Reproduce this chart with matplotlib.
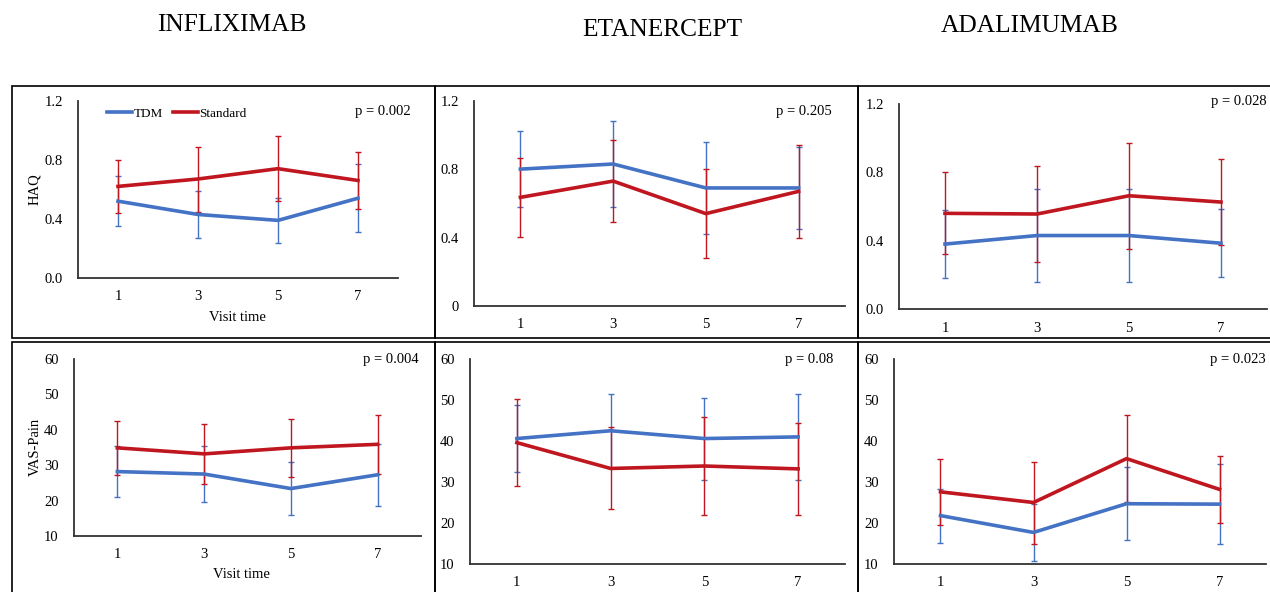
import matplotlib
matplotlib.use("Agg")
import matplotlib.pyplot as plt
from matplotlib.patches import Rectangle
from matplotlib.lines import Line2D

plt.rcParams['font.family'] = ['Liberation Serif', 'DejaVu Serif']

W, H = 1270, 592

# Data
visits = ['1', '3', '5', '7']
drugs = ['INFLIXIMAB', 'ETANERCEPT', 'ADALIMUMAB']

# HAQ row
haq_tdm = [[0.52, 0.43, 0.39, 0.54],
           [0.80, 0.83, 0.69, 0.69],
           [0.38, 0.43, 0.43, 0.385]]
haq_tdm_err = [[0.17, 0.16, 0.15, 0.23],
               [0.22, 0.25, 0.27, 0.24],
               [0.20, 0.27, 0.27, 0.20]]
haq_std = [[0.62, 0.67, 0.74, 0.66],
           [0.635, 0.73, 0.54, 0.67],
           [0.56, 0.556, 0.663, 0.626]]
haq_std_err = [[0.18, 0.22, 0.22, 0.19],
               [0.23, 0.24, 0.26, 0.27],
               [0.24, 0.28, 0.31, 0.25]]
haq_p = ['p = 0.002', 'p = 0.205', 'p = 0.028']

# VAS-Pain row
vas_tdm = [[28.2, 27.5, 23.4, 27.3],
           [40.6, 42.5, 40.6, 41.0],
           [21.8, 17.7, 24.7, 24.6]]
vas_tdm_err = [[7.2, 8.0, 7.4, 8.8],
               [8.1, 9.0, 10.0, 10.4],
               [6.6, 6.9, 8.9, 9.7]]
vas_std = [[34.9, 33.2, 34.9, 35.9],
           [39.6, 33.3, 33.9, 33.2],
           [27.6, 25.0, 35.7, 28.2]]
vas_std_err = [[7.6, 8.4, 8.1, 8.4],
               [10.6, 10.0, 12.0, 11.3],
               [8.1, 10.0, 10.6, 8.1]]
vas_p = ['p = 0.004', 'p = 0.08', 'p = 0.023']

BLUE = '#4472C4'
RED = '#C0161F'

fig = plt.figure(figsize=(W / 100, H / 100), dpi=100)


def fx(x):
    return x / W


def fy(y):
    return 1 - y / H


def make_ax(l, t, r, b):
    return fig.add_axes([fx(l), fy(b), (r - l) / W, (b - t) / H])


# panel boxes
for (l, t, r, b) in [(12, 86, 435, 338), (435, 86, 858, 338), (858, 86, 1275, 338),
                     (12, 342, 435, 600), (435, 342, 858, 600), (858, 342, 1275, 600)]:
    fig.patches.append(Rectangle((fx(l), fy(b)), (r - l) / W, (b - t) / H,
                                 transform=fig.transFigure, fill=False,
                                 edgecolor='black', linewidth=1.2, zorder=0))

# titles
for name, x, y in zip(drugs, [232, 662, 1030], [25, 30, 26]):
    fig.text(fx(x), fy(y), name, ha='center', va='center', fontsize=18.3)

# axes positions in pixels (left, top, right, bottom)
top_pos = [(78, 100.7, 398, 278), (474, 100.7, 845, 306), (899, 104, 1267, 309)]
bot_pos = [(74, 359, 421, 536), (470, 359, 845, 564), (894, 359, 1266, 564)]
top_p_xy = [(411, 111), (832, 111), (1267, 101)]
bot_p_xy = [(419, 360), (833, 360), (1266, 360)]
haq_ticks = [['0.0', '0.4', '0.8', '1.2'], ['0', '0.4', '0.8', '1.2'], ['0.0', '0.4', '0.8', '1.2']]

x = list(range(len(visits)))


def draw(ax, tdm, tdm_e, std, std_e):
    ax.errorbar(x, tdm, yerr=tdm_e, color=BLUE, lw=2.6, elinewidth=1.0,
                capsize=2.5, capthick=1.0, zorder=3)
    ax.errorbar(x, std, yerr=std_e, color=RED, lw=2.6, elinewidth=1.0,
                capsize=2.5, capthick=1.0, zorder=3)
    ax.set_xlim(-0.5, 3.5)
    ax.set_xticks(x)
    ax.set_xticklabels(visits)
    for s in ['top', 'right']:
        ax.spines[s].set_visible(False)
    for s in ['left', 'bottom']:
        ax.spines[s].set_color('#333333')
        ax.spines[s].set_linewidth(1.3)
    ax.tick_params(length=0, labelsize=10.5, colors='black')
    ax.tick_params(axis='y', pad=11)
    ax.tick_params(axis='x', pad=9)
    ax.patch.set_alpha(0)


for i in range(3):
    ax = make_ax(*top_pos[i])
    draw(ax, haq_tdm[i], haq_tdm_err[i], haq_std[i], haq_std_err[i])
    ax.set_ylim(0, 1.2)
    ax.set_yticks([0, 0.4, 0.8, 1.2])
    ax.set_yticklabels(haq_ticks[i])
    fig.text(fx(top_p_xy[i][0]), fy(top_p_xy[i][1]), haq_p[i], ha='right', va='center', fontsize=10.5)
    if i == 0:
        fig.text(fx(35), fy(189), 'HAQ', rotation=90, ha='center', va='center', fontsize=10.5)
        fig.text(fx(237), fy(317), 'Visit time', ha='center', va='center', fontsize=10.5)
        handles = [Line2D([], [], color=BLUE, lw=2.6), Line2D([], [], color=RED, lw=2.6)]
        ax.legend(handles, ['TDM', 'Standard'], loc='center left',
                  bbox_to_anchor=((107 - 78) / 320, 1 - (114 - 100.7) / 177.3),
                  ncol=2, frameon=False, fontsize=9.5, handlelength=1.9, handletextpad=0.15,
                  columnspacing=0.7, borderaxespad=0, borderpad=0)

for i in range(3):
    ax = make_ax(*bot_pos[i])
    draw(ax, vas_tdm[i], vas_tdm_err[i], vas_std[i], vas_std_err[i])
    ax.set_ylim(10, 60)
    ax.set_yticks([10, 20, 30, 40, 50, 60])
    fig.text(fx(bot_p_xy[i][0]), fy(bot_p_xy[i][1]), vas_p[i], ha='right', va='center', fontsize=10.5)
    if i == 0:
        fig.text(fx(35), fy(447), 'VAS-Pain', rotation=90, ha='center', va='center', fontsize=10.5)
        fig.text(fx(241), fy(575), 'Visit time', ha='center', va='center', fontsize=10.5)

fig.savefig('out.png', dpi=100)
